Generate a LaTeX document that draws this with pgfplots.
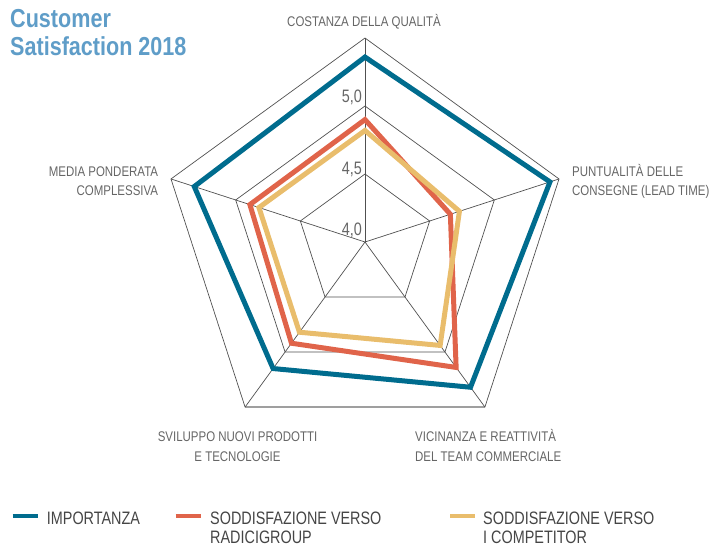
\documentclass[border=0pt]{standalone}
\usepackage{fontspec}
\setmainfont{Liberation Sans}[FakeStretch=0.82]
\newfontfamily\legfont{Liberation Sans}[FakeStretch=0.8]
\newfontfamily\titlefont{Liberation Sans}[FakeStretch=0.83]
\usepackage{pgfplots}
\pgfplotsset{compat=1.18}
\usepgfplotslibrary{polar}
\definecolor{cblue}{HTML}{006C8E}
\definecolor{cred}{HTML}{E0644A}
\definecolor{cyel}{HTML}{E9BD6C}
\definecolor{ctitle}{HTML}{5F9DC8}
\definecolor{clab}{HTML}{666666}
\definecolor{cleg}{HTML}{454545}
\definecolor{cgrid}{HTML}{505050}
\begin{document}
\begin{tikzpicture}[x=1pt,y=1pt]
\path[use as bounding box] (0,0) rectangle (712,-549);
\begin{polaraxis}[
  at={(365pt,-242pt)}, anchor=center,
  width=408pt, height=408pt, scale only axis,
  hide axis, clip=false,
  xmin=0, xmax=360, ymin=0, ymax=1.5,
  y filter/.expression={y-4},
  grid/.style={cgrid, line width=0.7pt, forget plot},
  series/.style={line width=5pt, line join=miter, forget plot},
]
% pentagonal grid rings
\addplot[grid] coordinates {(90,4.5) (18,4.5) (306,4.5) (234,4.5) (162,4.5) (90,4.5) (18,4.5)};
\addplot[grid] coordinates {(90,5.0) (18,5.0) (306,5.0) (234,5.0) (162,5.0) (90,5.0) (18,5.0)};
\addplot[grid] coordinates {(90,5.5) (18,5.5) (306,5.5) (234,5.5) (162,5.5) (90,5.5) (18,5.5)};
\addplot[color=gray!75, line width=2pt, forget plot] coordinates {(234,5.5) (306,5.5)};
% spokes
\addplot[grid] coordinates {(90,4) (90,5.5)};
\addplot[grid] coordinates {(18,4) (18,5.5)};
\addplot[grid] coordinates {(306,4) (306,5.5)};
\addplot[grid] coordinates {(234,4) (234,5.5)};
\addplot[grid] coordinates {(162,4) (162,5.5)};
% series: Costanza, Puntualita, Vicinanza, Sviluppo, Media
\addplot[series, cblue] coordinates {(90,5.36) (18,5.43) (306,5.32) (234,5.15) (162,5.32) (90,5.36) (18,5.43)};
\addplot[series, cred] coordinates {(90,4.90) (18,4.66) (306,5.14) (234,4.92) (162,4.89) (90,4.90) (18,4.66)};
\addplot[series, cyel] coordinates {(90,4.82) (18,4.73) (306,4.94) (234,4.82) (162,4.82) (90,4.82) (18,4.73)};
\end{polaraxis}
% radial tick labels
\begin{scope}[every node/.style={inner sep=0pt, text=clab, font=\legfont\fontsize{18}{20}\selectfont, anchor=base east}]
\node at (362,-235) {4,0};
\node at (362,-174) {4,5};
\node at (362,-102) {5,0};
\end{scope}
% title
\begin{scope}[every node/.style={inner sep=0pt, text=ctitle, font=\titlefont\bfseries\fontsize{26}{28}\selectfont, anchor=base west}]
\node at (10,-27) {Customer};
\node at (10,-55) {Satisfaction 2018};
\end{scope}
% category labels
\begin{scope}[every node/.style={inner sep=0pt, text=clab, font=\fontsize{14}{19}\selectfont}]
\node[anchor=base] at (364,-26.5) {COSTANZA DELLA QUALITÀ};
\node[anchor=base west] at (572,-176.5) {PUNTUALITÀ DELLE};
\node[anchor=base west] at (572,-195) {CONSEGNE (LEAD TIME)};
\node[anchor=base east] at (158.3,-176.5) {MEDIA PONDERATA};
\node[anchor=base east] at (158.3,-195) {COMPLESSIVA};
\node[anchor=base] at (237.5,-441.5) {SVILUPPO NUOVI PRODOTTI};
\node[anchor=base] at (237.5,-461) {E TECNOLOGIE};
\node[anchor=base west] at (415,-441.5) {VICINANZA E REATTIVITÀ};
\node[anchor=base west] at (415,-461) {DEL TEAM COMMERCIALE};
\end{scope}
% legend
\draw[cblue, line width=4pt] (12.7,-516) -- (38,-516);
\draw[cred, line width=4pt] (175.7,-516) -- (201,-516);
\draw[cyel, line width=4pt] (450,-516) -- (475,-516);
\begin{scope}[every node/.style={inner sep=0pt, text=cleg, font=\legfont\fontsize{18}{20}\selectfont, anchor=base west}]
\node at (46.7,-524) {IMPORTANZA};
\node at (210,-524) {SODDISFAZIONE VERSO};
\node at (210,-543.5) {RADICIGROUP};
\node at (483,-524) {SODDISFAZIONE VERSO};
\node at (483,-543.5) {I COMPETITOR};
\end{scope}
\end{tikzpicture}
\end{document}
